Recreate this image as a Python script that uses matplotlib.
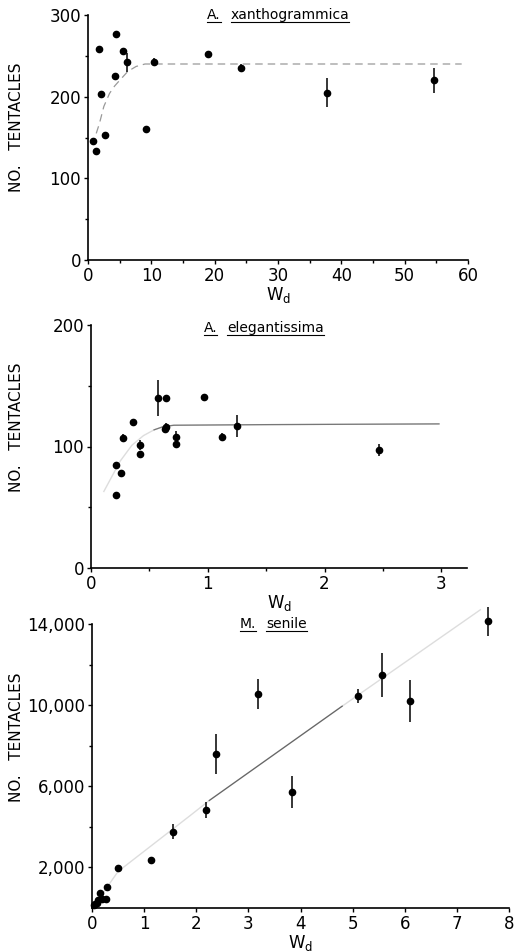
import matplotlib
matplotlib.use('Agg')
import matplotlib.pyplot as plt
from matplotlib.lines import Line2D
from matplotlib.ticker import FixedLocator, FuncFormatter

# A. xanthogrammica
xan_w = [0.8, 1.2, 1.7, 2.0, 2.7, 4.3, 4.4, 5.5, 6.2, 9.2, 10.4, 18.9, 24.1, 37.7, 54.7]
xan_n = [146, 133, 258, 203, 153, 225, 277, 256, 242, 160, 242, 252, 235, 205, 220]
xan_err = [3, 3, 4, 3, 3, 4, 4, 4, 12, 4, 5, 2, 5, 18, 15]
xan_fit_w = [1.3, 1.8, 2.5, 3.4, 4.2, 5.0, 6.3, 7.6, 9.0, 59.0]
xan_fit_n = [155, 167, 188, 204, 213, 220, 231, 237, 240, 240]

# A. elegantissima
ele_w = [0.21, 0.21, 0.26, 0.27, 0.36, 0.42, 0.42, 0.57, 0.64, 0.63, 0.64,
         0.73, 0.73, 0.97, 1.12, 1.25, 2.47]
ele_n = [60, 85, 78, 107, 120, 101, 94, 140, 140, 114, 116, 108, 102, 141, 108, 117, 97]
ele_err = [0, 1, 0, 3, 0, 4, 0, 15, 0, 2, 3, 5, 0, 0, 3, 9, 5]
ele_fit_w = [0.11, 0.25, 0.35, 0.45, 0.54, 0.62, 0.71, 1.5, 2.98]
ele_fit_n = [63, 88, 101, 109, 113.7, 116.4, 117.5, 118, 118.6]

# M. senile
sen_w = [0.03, 0.05, 0.10, 0.12, 0.16, 0.19, 0.26, 0.29, 0.5, 1.14, 1.55, 2.18,
         2.38, 3.18, 3.84, 5.10, 5.56, 6.11, 7.60]
sen_n = [130, 180, 260, 406, 732, 440, 440, 1057, 1950, 2370, 3760, 4850,
         7590, 10550, 5710, 10450, 11480, 10200, 14130]
sen_err = [0, 0, 0, 0, 0, 0, 0, 0, 0, 150, 360, 400, 975, 750, 780, 325, 1100, 1050, 730]
sen_fit_w = [0.05, 0.5, 1.88, 2.25, 4.8, 7.45]
sen_fit_n = [150, 1800, 4550, 5300, 9950, 14700]

W, H = 516, 951
fig = plt.figure(figsize=(W / 100, H / 100), dpi=100)


def make_axes(left, bottom, right, top, label_y):
    ax = fig.add_axes([left / W, 1 - bottom / H, (right - left) / W, (bottom - top) / H])
    for s in ('top', 'right'):
        ax.spines[s].set_visible(False)
    for s in ('left', 'bottom'):
        ax.spines[s].set_linewidth(1.2)
    ax.tick_params(which='both', direction='out', length=3, width=1, labelsize=12, pad=2)
    ax.tick_params(which='minor', length=2)
    ax.set_ylabel('NO.   TENTACLES', fontsize=11)
    # right edge of the rotated label sits about 24 px from the figure edge
    ax.yaxis.set_label_coords((24 - left) / (right - left), label_y)
    ax.set_xlabel('W$_\\mathregular{d}$', fontsize=12, labelpad=0)
    return ax


def points(ax, w, n, err):
    cont = ax.errorbar(w, n, yerr=err, fmt='o', color='black', ms=4.5, elinewidth=1.1,
                       capsize=0, zorder=3)
    for art in cont.get_children():
        art.set_clip_on(False)


titles = []

# panel 1
ax1 = make_axes(88, 260, 468, 15, 0.54)
ax1.plot(xan_fit_w, xan_fit_n, color='#999999', lw=0.9, ls=(0, (6, 4)))
points(ax1, xan_w, xan_n, xan_err)
ax1.set_xlim(0, 60)
ax1.set_ylim(0, 300)
ax1.set_xticks([0, 10, 20, 30, 40, 50, 60])
ax1.xaxis.set_minor_locator(FixedLocator([5, 15, 25, 35, 45, 55]))
ax1.set_yticks([0, 100, 200, 300])
ax1.yaxis.set_minor_locator(FixedLocator([50, 150, 250]))
titles.append((ax1, 0.313, 0.984, ['A.', 'xanthogrammica']))

# panel 2
ax2 = make_axes(91, 568, 467, 325, 0.58)
ax2.plot(ele_fit_w, ele_fit_n, color='#dddddd', lw=1.0)
ax2.plot(ele_fit_w[4:], ele_fit_n[4:], color='#777777', lw=0.9)
points(ax2, ele_w, ele_n, ele_err)
ax2.set_xlim(0, 3.22)
ax2.set_ylim(0, 200)
ax2.set_xticks([0, 1, 2, 3])
ax2.xaxis.set_minor_locator(FixedLocator([0.5, 1.5, 2.5]))
ax2.set_yticks([0, 100, 200])
ax2.yaxis.set_minor_locator(FixedLocator([50, 150]))
titles.append((ax2, 0.30, 0.971, ['A.', 'elegantissima']))

# panel 3
ax3 = make_axes(92, 908, 509, 624, 0.60)
ax3.plot(sen_fit_w, sen_fit_n, color='#dddddd', lw=1.0, clip_on=False)
ax3.plot(sen_fit_w[3:5], sen_fit_n[3:5], color='#666666', lw=0.9)
points(ax3, sen_w, sen_n, sen_err)
ax3.set_xlim(0, 8)
ax3.set_ylim(0, 14000)
ax3.set_xticks(range(9))
ax3.set_yticks([2000, 6000, 10000, 14000])
ax3.yaxis.set_minor_locator(FixedLocator([4000, 8000, 12000]))
ax3.yaxis.set_major_formatter(FuncFormatter(lambda v, p: f'{int(v):,}'))
titles.append((ax3, 0.355, 0.986, ['M.', 'senile']))

# underlined species names
fig.canvas.draw()
renderer = fig.canvas.get_renderer()
for ax, x0, y0, parts in titles:
    px, py = ax.transAxes.transform((x0, y0))
    for part in parts:
        t = fig.text(px / W, py / H, part, fontsize=10, ha='left', va='baseline')
        bb = t.get_window_extent(renderer)
        fig.add_artist(Line2D([bb.x0 / W, bb.x1 / W], [(py - 3) / H, (py - 3) / H],
                              color='black', lw=0.8))
        px = bb.x1 + 10

fig.savefig('out.png', dpi=100)
